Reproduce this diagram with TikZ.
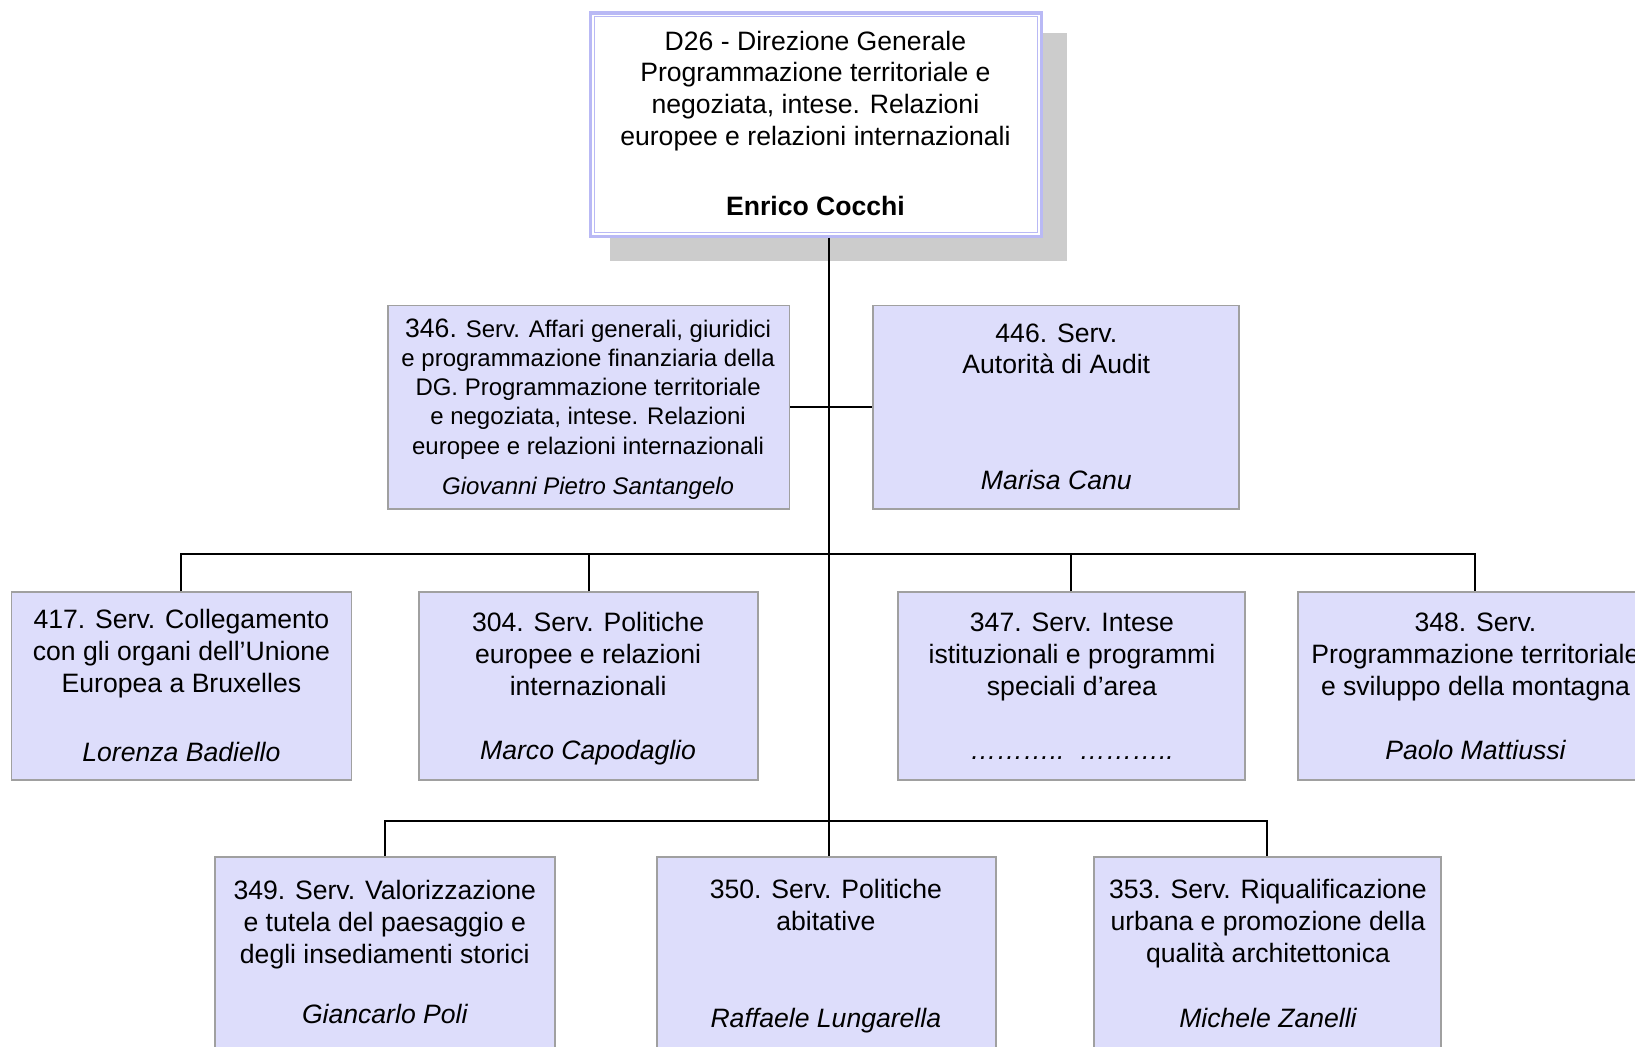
\documentclass[tikz,border=0pt]{standalone}
\usepackage{fontspec}
\setmainfont{Liberation Sans}
\definecolor{boxfill}{RGB}{221,221,251}
\definecolor{boxline}{RGB}{160,160,160}
\definecolor{lav}{RGB}{185,185,245}
\definecolor{shadowgray}{RGB}{204,204,204}
\begin{document}
\begin{tikzpicture}[x=1pt,y=-1pt,
  box/.style={draw=boxline, fill=boxfill, line width=1.5pt, inner sep=0pt, rectangle},
  conn/.style={draw=black, line width=1.9pt},
  txt/.style={anchor=base, align=center, inner sep=0pt, font=\fontsize{25.5}{30.5}\selectfont},
  smalltxt/.style={anchor=base, align=center, inner sep=0pt, font=\fontsize{23}{28}\selectfont},
  nm/.style={anchor=base, align=center, inner sep=0pt, font=\fontsize{25.5}{30.5}\selectfont\itshape},
  smallnm/.style={anchor=base, align=center, inner sep=0pt, font=\fontsize{23}{28}\selectfont\itshape},
]
\useasboundingbox (0,0) rectangle (1568,1004);
\clip (0,0) rectangle (1568,1004);

% top box with shadow
\node[fill=shadowgray, inner sep=0pt, minimum width=438pt, minimum height=218pt] (topshadow) at (804,141) {};
\node[draw=lav, fill=white, line width=3pt, inner sep=0pt, minimum width=432pt, minimum height=214pt] (top) at (782.5,119.5) {};
\draw[draw=lav, line width=1.5pt] ([shift={(5,5)}]top.north west) rectangle ([shift={(-5,-5)}]top.south east);
\node[txt] (toptxt) at (782,139.5) {D26 - Direzione Generale\\Programmazione territoriale e\\negoziata, intese. Relazioni\\europee e relazioni internazionali};
\node[txt, font=\fontsize{25.5}{30.5}\selectfont\bfseries] (topnm) at (782,207) {Enrico Cocchi};

% staff boxes
\node[box, minimum width=385pt, minimum height=195pt] (b346) at (564.5,390.5) {};
\node[smalltxt] (t346) at (564,435.5) {{\fontsize{25.5}{28}\selectfont 346.} Serv. Affari generali, giuridici\\e programmazione finanziaria della\\DG. Programmazione territoriale\\e negoziata, intese. Relazioni\\europee e relazioni internazionali};
\node[smallnm] (n346) at (564,474) {Giovanni Pietro Santangelo};

\node[box, minimum width=351pt, minimum height=195pt] (b446) at (1012.5,390.5) {};
\node[txt] (t446) at (1013,358.5) {446. Serv.\\Autorità di Audit};
\node[nm] (n446) at (1013,469) {Marisa Canu};

% row 2
\node[box, minimum width=326pt, minimum height=180pt] (b417) at (174,658) {};
\node[txt] (t417) at (174,664) {417. Serv. Collegamento\\con gli organi dell’Unione\\Europea a Bruxelles};
\node[nm] (n417) at (174,730) {Lorenza Badiello};

\node[box, minimum width=325pt, minimum height=180pt] (b304) at (564.5,658) {};
\node[txt] (t304) at (564,667) {304. Serv. Politiche\\europee e relazioni\\internazionali};
\node[nm] (n304) at (564,728) {Marco Capodaglio};

\node[box, minimum width=333pt, minimum height=180pt] (b347) at (1027.5,658) {};
\node[txt] (t347) at (1028,667) {347. Serv. Intese\\istituzionali e programmi\\speciali d’area};
\node[nm] (n347) at (1028,728) {………..\ \ ………..};

\node[box, minimum width=340pt, minimum height=180pt] (b348) at (1415,658) {};
\node[txt] (t348) at (1415,667) {348. Serv.\\Programmazione territoriale\\e sviluppo della montagna};
\node[nm] (n348) at (1415,728) {Paolo Mattiussi};

% row 3
\node[box, minimum width=326pt, minimum height=208pt] (b349) at (369,926) {};
\node[txt] (t349) at (369,924) {349. Serv. Valorizzazione\\e tutela del paesaggio e\\degli insediamenti storici};
\node[nm] (n349) at (369,982) {Giancarlo Poli};

\node[box, minimum width=325pt, minimum height=208pt] (b350) at (792.5,926) {};
\node[txt] (t350) at (792,892.5) {350. Serv. Politiche\\abitative};
\node[nm] (n350) at (792,985) {Raffaele Lungarella};

\node[box, minimum width=333pt, minimum height=208pt] (b353) at (1215.5,926) {};
\node[txt] (t353) at (1216,923) {353. Serv. Riqualificazione\\urbana e promozione della\\qualità architettonica};
\node[nm] (n353) at (1216,985) {Michele Zanelli};

% connectors
\coordinate (trunk) at (795,0);
\coordinate (bus2) at (795,531);
\coordinate (bus3) at (795,787);
\draw[conn] (top.south -| trunk) -- (b350.north -| trunk);
\draw[conn] (b346.east) -- (b446.west);
\draw[conn] (b417.north) |- (bus2) -| (b348.north);
\draw[conn] (b304.north) -- (b304.north |- bus2);
\draw[conn] (b347.north) -- (b347.north |- bus2);
\draw[conn] (b349.north) |- (bus3) -| (b353.north);
\end{tikzpicture}
\end{document}
